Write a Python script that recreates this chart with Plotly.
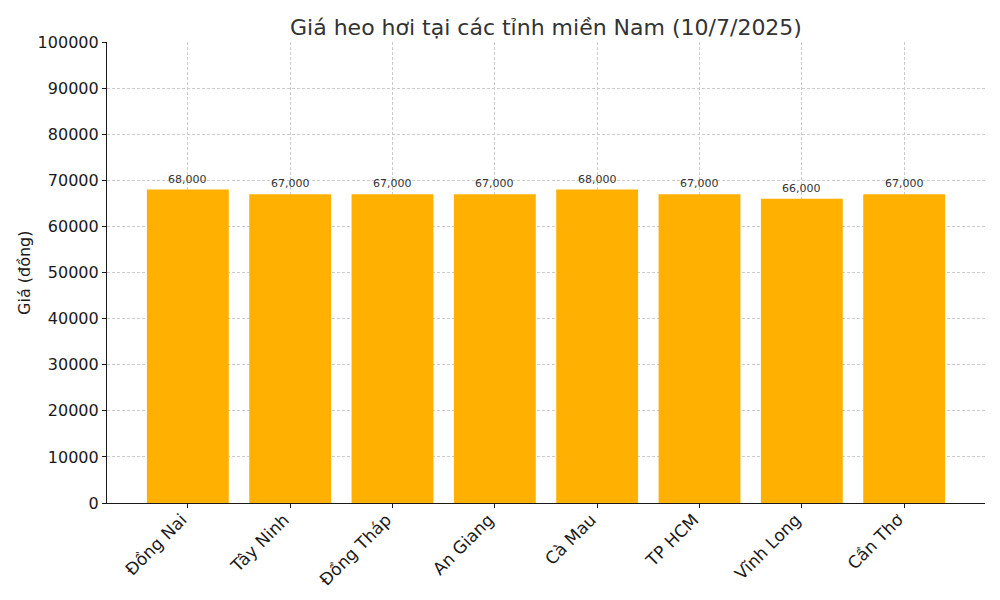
import plotly.graph_objects as go

provinces = ["Đồng Nai", "Tây Ninh", "Đồng Tháp", "An Giang", "Cà Mau", "TP HCM", "Vĩnh Long", "Cần Thơ"]
prices = [68000, 67000, 67000, 67000, 68000, 67000, 66000, 67000]
price_labels = [f"{p:,}" for p in prices]
xs = list(range(len(provinces)))

fig = go.Figure()
fig.add_trace(go.Bar(
    x=xs,
    y=prices,
    width=0.8,
    marker=dict(color="#FFB000", line=dict(width=0)),
))

# value labels above bars
for x, y, t in zip(xs, prices, price_labels):
    fig.add_annotation(x=x, y=y, text=t, showarrow=False,
                       yanchor="bottom", yshift=2,
                       font=dict(size=11, color="#333333"))

# y axis title placed by hand (automargin is off)
fig.add_annotation(text="Giá (đồng)", xref="paper", yref="paper",
                   x=-0.094, y=0.5, textangle=-90, showarrow=False,
                   xanchor="center", yanchor="middle",
                   font=dict(size=16, color="#1a1a1a"))

fig.update_layout(
    width=1000, height=600,
    margin=dict(l=99, r=23, t=34, b=105),
    plot_bgcolor="white", paper_bgcolor="white",
    font=dict(family="DejaVu Sans", color="#1a1a1a", size=16),
    title=dict(text="Giá heo hơi tại các tỉnh miền Nam (10/7/2025)",
               x=0.538, xanchor="center", y=0.968, yanchor="middle",
               font=dict(size=22, color="#333333")),
    showlegend=False,
)
grid = dict(showgrid=True, gridcolor="#cccccc", griddash="3px,2px", gridwidth=0.8,
            ticks="outside", ticklen=4, tickcolor="#1a1a1a",
            showline=True, linecolor="#1a1a1a", linewidth=1.2, zeroline=False,
            automargin=False)
fig.update_xaxes(
    range=[-0.79, 7.79],
    tickmode="array", tickvals=xs, ticktext=provinces,
    tickangle=-45, tickfont=dict(size=17),
    ticklabelshift=-6, ticklabelstandoff=-5,
    **grid,
)
fig.update_yaxes(
    range=[0, 100000], dtick=10000, tickformat="d",
    **grid,
)

fig.write_html("out.html")
